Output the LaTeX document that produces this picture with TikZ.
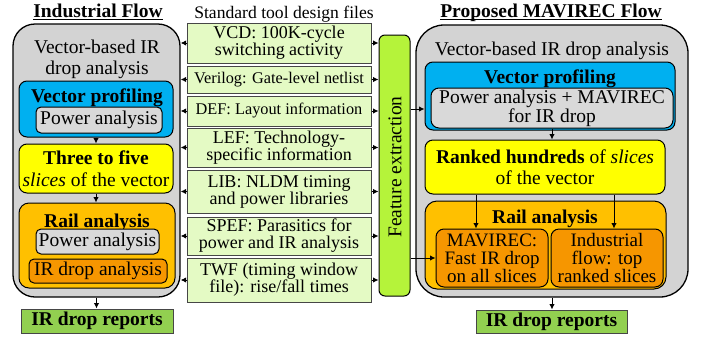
\documentclass[tikz,border=0pt]{standalone}
\usepackage{fontspec}
\setmainfont{Liberation Serif}
\usetikzlibrary{arrows.meta}
\definecolor{graybg}{RGB}{211,211,211}
\definecolor{innergray}{RGB}{217,217,217}
\definecolor{bluebox}{RGB}{0,176,240}
\definecolor{yelbox}{RGB}{255,255,0}
\definecolor{railbox}{RGB}{255,192,0}
\definecolor{darkorange}{RGB}{246,150,0}
\definecolor{filebox}{RGB}{228,250,196}
\definecolor{featbox}{RGB}{181,243,58}
\definecolor{greenbox}{RGB}{146,208,80}
\definecolor{fileedge}{RGB}{70,70,70}
\newcommand\fs[2]{\fontsize{#1}{#2}\selectfont}
\begin{document}
\begin{tikzpicture}[x=1pt,y=-1pt,
  bx/.style={draw, line width=1pt, inner sep=0pt, align=center},
  arr/.style={-{Latex[length=5.5pt,width=5.5pt]}, line width=1pt},
  fb/.style={bx, draw=fileedge, fill=filebox, minimum width=184pt, font=\fs{18}{17}},
  tx/.style={inner sep=0pt, align=center},
  bt/.style={inner sep=0pt, anchor=base, font=\fs{19.5}{17}\bfseries},
  font=\fs{19.5}{17}
]
\useasboundingbox (0,0) rectangle (701,338);

% ---------- Left: Industrial flow ----------
\node[bt] (ltitle) at (98,17) {Industrial Flow};
\draw[line width=1.2pt] ([yshift=-2.5pt]ltitle.base west) -- ([yshift=-2.5pt]ltitle.base east);
\node[bx, line width=1.3pt, rounded corners=22pt, fill=graybg, minimum width=167pt, minimum height=273pt] (lgray) at (96.5,160.5) {};
\node[tx, font=\fs{19.5}{21}] (lvb) at (97,59) {Vector-based IR\\drop analysis};
\node[bx, rounded corners=8pt, fill=bluebox, minimum width=154pt, minimum height=56pt] (lblue) at (96,109) {};
\node[bt] (lbluet) at (97,102) {Vector profiling};
\node[bx, rounded corners=5pt, fill=innergray, minimum width=126pt, minimum height=26pt] (lpow1) at (99,120) {Power analysis};
\node[bx, rounded corners=8pt, fill=yelbox, minimum width=154pt, minimum height=49pt, font=\fs{19.5}{22}] (lyel) at (96,168.5) {\textbf{Three to five}\\\textit{slices} of the vector};
\node[bx, rounded corners=10pt, fill=railbox, minimum width=156pt, minimum height=85pt] (lrail) at (97,245.5) {};
\node[bt] (lrailt) at (97,227) {Rail analysis};
\node[bx, rounded corners=5pt, fill=innergray, minimum width=123pt, minimum height=25pt] (lpow2) at (97.5,241.5) {Power analysis};
\node[bx, rounded corners=5pt, fill=darkorange, minimum width=138pt, minimum height=24pt] (lird) at (98,271) {IR drop analysis};
\node[bx, draw=fileedge, fill=greenbox, minimum width=152pt, minimum height=24pt, font=\fs{19.5}{17}\bfseries] (lgreen) at (97,321) {IR drop reports};

\draw[arr] (lblue.south) -- (lyel.north);
\draw[arr] (lyel.south) -- (lyel.south |- lrail.north);
\draw[arr] (lgray.south) -- (lgray.south |- lgreen.north);

% ---------- Middle: design files ----------
\node[tx, anchor=base, font=\fs{17.6}{17}] (mtitle) at (284,18) {Standard tool design files};
\node[fb, minimum height=40pt] (vcd) at (279,43) {VCD: 100K-cycle\\switching activity};
\node[fb, minimum height=27pt, font=\fs{16.3}{17}] (ver) at (279,79.5) {Verilog: Gate-level netlist};
\node[fb, minimum height=30pt, font=\fs{16.3}{17}] (def) at (279,111) {DEF: Layout information};
\node[fb, minimum height=39pt] (lef) at (279,147.5) {LEF: Technology-\\specific information};
\node[fb, minimum height=43pt] (lib) at (279,191.5) {LIB: NLDM timing\\and power libraries};
\node[fb, minimum height=38pt] (spef) at (279,236) {SPEF: Parasitics for\\power and IR analysis};
\node[fb, minimum height=44pt] (twf) at (279,280) {TWF (timing window\\file): rise/fall times};

\node[bx, rounded corners=6pt, fill=featbox, minimum width=31pt, minimum height=261pt] (feat) at (394.5,165.5) {};
\node[tx, rotate=90] (featt) at (395,167) {Feature extraction};

\foreach \f in {vcd,ver,def,lef,lib,spef,twf}{
  \draw[arr] (\f.west) -- (lgray.east |- \f.west);
  \draw[arr] (\f.east) -- (feat.west |- \f.east);
}

% ---------- Right: MAVIREC flow ----------
\node[bt] (rtitle) at (551,17) {Proposed MAVIREC Flow};
\draw[line width=1.2pt] ([yshift=-2.5pt]rtitle.base west) -- ([yshift=-2.5pt]rtitle.base east);
\node[bx, line width=1.3pt, rounded corners=28pt, fill=graybg, minimum width=272pt, minimum height=272pt] (rgray) at (552,161) {};
\node[tx, anchor=base] (rvb) at (552,55) {Vector-based IR drop analysis};
\node[bx, rounded corners=8pt, fill=bluebox, minimum width=250pt, minimum height=68pt] (rblue) at (550,96) {};
\node[bt] (rbluet) at (550,83) {Vector profiling};
\node[bx, rounded corners=8pt, fill=innergray, minimum width=242pt, minimum height=40pt] (rpow) at (552,108) {Power analysis + MAVIREC\\for IR drop};
\node[bx, rounded corners=8pt, fill=yelbox, minimum width=240pt, minimum height=54pt, font=\fs{19.5}{21}] (ryel) at (545,167) {\textbf{Ranked hundreds} of \textit{slices}\\of the vector};
\node[bx, rounded corners=12pt, fill=railbox, minimum width=241pt, minimum height=88pt] (rrail) at (545.5,245) {};
\node[bt] (rrailt) at (545,223) {Rail analysis};
\node[bx, rounded corners=8pt, fill=darkorange, minimum width=112pt, minimum height=58pt, font=\fs{19}{18}] (rmav) at (492,258) {MAVIREC:\\Fast IR drop\\on all slices};
\node[bx, rounded corners=8pt, fill=darkorange, minimum width=112pt, minimum height=58pt, font=\fs{19}{18}] (rind) at (607,258) {Industrial\\flow: top\\ranked slices};
\node[bx, draw=fileedge, fill=greenbox, minimum width=151pt, minimum height=23pt, font=\fs{19.5}{17}\bfseries] (rgreen) at (551.5,321.5) {IR drop reports};

\coordinate (xa) at (476,0);
\coordinate (xb) at (614,0);
\coordinate (fy) at (0,109);
\draw[arr] (rpow.south) -- (rpow.south |- ryel.north);
\draw[arr] (ryel.south -| xa) -- (rmav.north -| xa);
\draw[arr] (ryel.south -| xb) -- (rind.north -| xb);
\draw[arr] (rgray.south) -- (rgray.south |- rgreen.north);
\draw[arr] (feat.east |- fy) -- (rblue.west |- fy);
\draw[arr] (feat.east |- rmav.west) -- (rmav.west);
\end{tikzpicture}
\end{document}
